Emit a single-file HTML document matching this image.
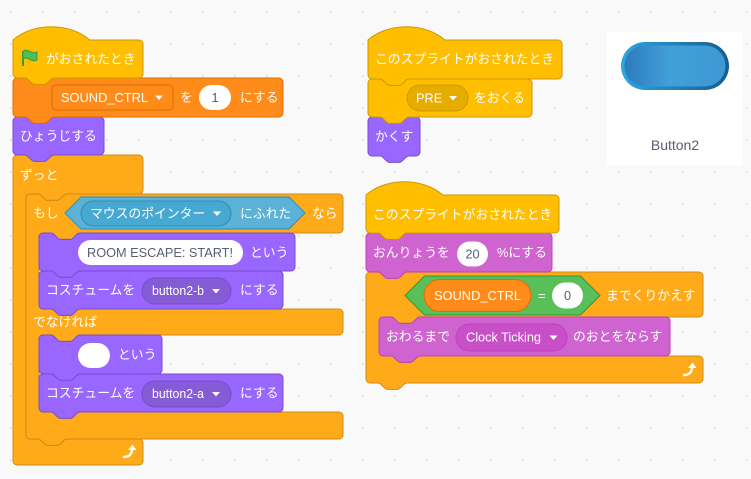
<!DOCTYPE html>
<html><head><meta charset="utf-8"><style>
html,body{margin:0;padding:0;background:#f9f9f9;}
svg{display:block;}
text{font-family:"Liberation Sans","Noto Sans CJK JP",sans-serif;font-size:12.8px;fill:#fff;}
.d{fill:#575E75;}
</style></head><body>
<svg width="751" height="479" viewBox="0 0 751 479" xmlns="http://www.w3.org/2000/svg">
<defs>
<pattern id="g" width="32" height="32" patternUnits="userSpaceOnUse"><circle cx="11" cy="12" r="1" fill="#dcdcdc"/></pattern>
<linearGradient id="bo" x1="0" x2="1" y1="0" y2="0"><stop offset="0" stop-color="#2aa8e0"/><stop offset="1" stop-color="#1a5b8e"/></linearGradient>
<linearGradient id="bi" x1="0" x2="1" y1="0" y2="0"><stop offset="0" stop-color="#2d7bbd"/><stop offset="0.45" stop-color="#42a0d9"/><stop offset="1" stop-color="#3c98d2"/></linearGradient>
</defs>
<rect width="751" height="479" fill="#f9f9f9"/>
<rect width="751" height="479" fill="url(#g)"/>

<!-- Script 1 -->
<path fill="#FFAB19" stroke="#CF8B17" d="M13,159 A4,4 0 0 1 17,155 H25 c1.6,0 2.4,0.8 3.2,1.6 l3.2,3.2 c0.8,0.8 1.6,1.6 3.2,1.6 h9.6 c1.6,0 2.4,-0.8 3.2,-1.6 l3.2,-3.2 c0.8,-0.8 1.6,-1.6 3.2,-1.6 H139 A4,4 0 0 1 143,159 V190 A4,4 0 0 1 139,194 H66.8 c-1.6,0 -2.4,0.8 -3.2,1.6 l-3.2,3.2 c-0.8,0.8 -1.6,1.6 -3.2,1.6 h-9.6 c-1.6,0 -2.4,-0.8 -3.2,-1.6 l-3.2,-3.2 c-0.8,-0.8 -1.6,-1.6 -3.2,-1.6 H30 A4,4 0 0 0 26,198 V435 A4,4 0 0 0 30,439 H38 c1.6,0 2.4,0.8 3.2,1.6 l3.2,3.2 c0.8,0.8 1.6,1.6 3.2,1.6 h9.6 c1.6,0 2.4,-0.8 3.2,-1.6 l3.2,-3.2 c0.8,-0.8 1.6,-1.6 3.2,-1.6 H139 A4,4 0 0 1 143,443 V461 A4,4 0 0 1 139,465 H17 A4,4 0 0 1 13,461 Z"/>
<path fill="#FFAB19" stroke="#CF8B17" d="M26,198 A4,4 0 0 1 30,194 H38 c1.6,0 2.4,0.8 3.2,1.6 l3.2,3.2 c0.8,0.8 1.6,1.6 3.2,1.6 h9.6 c1.6,0 2.4,-0.8 3.2,-1.6 l3.2,-3.2 c0.8,-0.8 1.6,-1.6 3.2,-1.6 H339 A4,4 0 0 1 343,198 V229 A4,4 0 0 1 339,233 H79.8 c-1.6,0 -2.4,0.8 -3.2,1.6 l-3.2,3.2 c-0.8,0.8 -1.6,1.6 -3.2,1.6 h-9.6 c-1.6,0 -2.4,-0.8 -3.2,-1.6 l-3.2,-3.2 c-0.8,-0.8 -1.6,-1.6 -3.2,-1.6 H43 A4,4 0 0 0 39,237 V305 A4,4 0 0 0 43,309 H51 c1.6,0 2.4,0.8 3.2,1.6 l3.2,3.2 c0.8,0.8 1.6,1.6 3.2,1.6 h9.6 c1.6,0 2.4,-0.8 3.2,-1.6 l3.2,-3.2 c0.8,-0.8 1.6,-1.6 3.2,-1.6 H339 A4,4 0 0 1 343,313 V331 A4,4 0 0 1 339,335 H79.8 c-1.6,0 -2.4,0.8 -3.2,1.6 l-3.2,3.2 c-0.8,0.8 -1.6,1.6 -3.2,1.6 h-9.6 c-1.6,0 -2.4,-0.8 -3.2,-1.6 l-3.2,-3.2 c-0.8,-0.8 -1.6,-1.6 -3.2,-1.6 H43 A4,4 0 0 0 39,339 V408 A4,4 0 0 0 43,412 H51 c1.6,0 2.4,0.8 3.2,1.6 l3.2,3.2 c0.8,0.8 1.6,1.6 3.2,1.6 h9.6 c1.6,0 2.4,-0.8 3.2,-1.6 l3.2,-3.2 c0.8,-0.8 1.6,-1.6 3.2,-1.6 H339 A4,4 0 0 1 343,416 V435 A4,4 0 0 1 339,439 H66.8 c-1.6,0 -2.4,0.8 -3.2,1.6 l-3.2,3.2 c-0.8,0.8 -1.6,1.6 -3.2,1.6 h-9.6 c-1.6,0 -2.4,-0.8 -3.2,-1.6 l-3.2,-3.2 c-0.8,-0.8 -1.6,-1.6 -3.2,-1.6 H30 A4,4 0 0 1 26,435 Z"/>
<path fill="#9966FF" stroke="#774DCB" d="M13,121 A4,4 0 0 1 17,117 H25 c1.6,0 2.4,0.8 3.2,1.6 l3.2,3.2 c0.8,0.8 1.6,1.6 3.2,1.6 h9.6 c1.6,0 2.4,-0.8 3.2,-1.6 l3.2,-3.2 c0.8,-0.8 1.6,-1.6 3.2,-1.6 H100 A4,4 0 0 1 104,121 V151 A4,4 0 0 1 100,155 H53.8 c-1.6,0 -2.4,0.8 -3.2,1.6 l-3.2,3.2 c-0.8,0.8 -1.6,1.6 -3.2,1.6 h-9.6 c-1.6,0 -2.4,-0.8 -3.2,-1.6 l-3.2,-3.2 c-0.8,-0.8 -1.6,-1.6 -3.2,-1.6 H17 A4,4 0 0 1 13,151 Z"/>
<path fill="#FF8C1A" stroke="#DB6E00" d="M13,82 A4,4 0 0 1 17,78 H25 c1.6,0 2.4,0.8 3.2,1.6 l3.2,3.2 c0.8,0.8 1.6,1.6 3.2,1.6 h9.6 c1.6,0 2.4,-0.8 3.2,-1.6 l3.2,-3.2 c0.8,-0.8 1.6,-1.6 3.2,-1.6 H279 A4,4 0 0 1 283,82 V113 A4,4 0 0 1 279,117 H53.8 c-1.6,0 -2.4,0.8 -3.2,1.6 l-3.2,3.2 c-0.8,0.8 -1.6,1.6 -3.2,1.6 h-9.6 c-1.6,0 -2.4,-0.8 -3.2,-1.6 l-3.2,-3.2 c-0.8,-0.8 -1.6,-1.6 -3.2,-1.6 H17 A4,4 0 0 1 13,113 Z"/>
<path fill="#FFBF00" stroke="#CC9900" d="M13,40 c20,-17.6 56.8,-17.6 76.8,0 H139 A4,4 0 0 1 143,44 V74 A4,4 0 0 1 139,78 H53.8 c-1.6,0 -2.4,0.8 -3.2,1.6 l-3.2,3.2 c-0.8,0.8 -1.6,1.6 -3.2,1.6 h-9.6 c-1.6,0 -2.4,-0.8 -3.2,-1.6 l-3.2,-3.2 c-0.8,-0.8 -1.6,-1.6 -3.2,-1.6 H17 A4,4 0 0 1 13,74 Z"/>
<!-- inner looks blocks -->
<path fill="#9966FF" stroke="#774DCB" d="M39,237 A4,4 0 0 1 43,233 H51 c1.6,0 2.4,0.8 3.2,1.6 l3.2,3.2 c0.8,0.8 1.6,1.6 3.2,1.6 h9.6 c1.6,0 2.4,-0.8 3.2,-1.6 l3.2,-3.2 c0.8,-0.8 1.6,-1.6 3.2,-1.6 H291 A4,4 0 0 1 295,237 V267 A4,4 0 0 1 291,271 H79.8 c-1.6,0 -2.4,0.8 -3.2,1.6 l-3.2,3.2 c-0.8,0.8 -1.6,1.6 -3.2,1.6 h-9.6 c-1.6,0 -2.4,-0.8 -3.2,-1.6 l-3.2,-3.2 c-0.8,-0.8 -1.6,-1.6 -3.2,-1.6 H43 A4,4 0 0 1 39,267 Z"/>
<path fill="#9966FF" stroke="#774DCB" d="M39,275 A4,4 0 0 1 43,271 H51 c1.6,0 2.4,0.8 3.2,1.6 l3.2,3.2 c0.8,0.8 1.6,1.6 3.2,1.6 h9.6 c1.6,0 2.4,-0.8 3.2,-1.6 l3.2,-3.2 c0.8,-0.8 1.6,-1.6 3.2,-1.6 H279 A4,4 0 0 1 283,275 V305 A4,4 0 0 1 279,309 H79.8 c-1.6,0 -2.4,0.8 -3.2,1.6 l-3.2,3.2 c-0.8,0.8 -1.6,1.6 -3.2,1.6 h-9.6 c-1.6,0 -2.4,-0.8 -3.2,-1.6 l-3.2,-3.2 c-0.8,-0.8 -1.6,-1.6 -3.2,-1.6 H43 A4,4 0 0 1 39,305 Z"/>
<path fill="#9966FF" stroke="#774DCB" d="M39,339 A4,4 0 0 1 43,335 H51 c1.6,0 2.4,0.8 3.2,1.6 l3.2,3.2 c0.8,0.8 1.6,1.6 3.2,1.6 h9.6 c1.6,0 2.4,-0.8 3.2,-1.6 l3.2,-3.2 c0.8,-0.8 1.6,-1.6 3.2,-1.6 H158 A4,4 0 0 1 162,339 V370 A4,4 0 0 1 158,374 H79.8 c-1.6,0 -2.4,0.8 -3.2,1.6 l-3.2,3.2 c-0.8,0.8 -1.6,1.6 -3.2,1.6 h-9.6 c-1.6,0 -2.4,-0.8 -3.2,-1.6 l-3.2,-3.2 c-0.8,-0.8 -1.6,-1.6 -3.2,-1.6 H43 A4,4 0 0 1 39,370 Z"/>
<path fill="#9966FF" stroke="#774DCB" d="M39,378 A4,4 0 0 1 43,374 H51 c1.6,0 2.4,0.8 3.2,1.6 l3.2,3.2 c0.8,0.8 1.6,1.6 3.2,1.6 h9.6 c1.6,0 2.4,-0.8 3.2,-1.6 l3.2,-3.2 c0.8,-0.8 1.6,-1.6 3.2,-1.6 H279 A4,4 0 0 1 283,378 V408 A4,4 0 0 1 279,412 H79.8 c-1.6,0 -2.4,0.8 -3.2,1.6 l-3.2,3.2 c-0.8,0.8 -1.6,1.6 -3.2,1.6 h-9.6 c-1.6,0 -2.4,-0.8 -3.2,-1.6 l-3.2,-3.2 c-0.8,-0.8 -1.6,-1.6 -3.2,-1.6 H43 A4,4 0 0 1 39,408 Z"/>

<!-- Script 1 contents -->
<line x1="23" y1="51" x2="23" y2="66" stroke="#45993d" stroke-width="2"/>
<path d="M23,51 c3,-2 6,0 8,1 c2,1 4,1 6,0 V60 c-2,1 -4,1 -6,0 c-2,-1 -5,-3 -8,-1 Z" fill="#4CBF56" stroke="#45993d" stroke-width="1"/>
<text x="46" y="63.5">がおされたとき</text>

<rect x="52" y="85" width="121" height="25" rx="4" fill="#FF8C1A" stroke="#DB6E00"/>
<text x="61" y="102" textLength="87" lengthAdjust="spacingAndGlyphs">SOUND_CTRL</text>
<path d="M155,95.5 h8 l-4,4.5 z" fill="#fff"/>
<text x="180" y="102">を</text>
<rect x="199" y="85" width="32" height="25" rx="12.5" fill="#fff"/>
<text class="d" x="215" y="102" text-anchor="middle">1</text>
<text x="240" y="102">にする</text>

<text x="20" y="140.5">ひょうじする</text>
<text x="20" y="179.5">ずっと</text>

<text x="33" y="217.5">もし</text>
<path d="M81,197 H289 L305,213 L289,229 H81 L65,213 Z" fill="#5CB1D6" stroke="#2E8EB8"/>
<rect x="81" y="201" width="150" height="25" rx="12.5" fill="#47A8D1" stroke="#2E8EB8"/>
<text x="90" y="218">マウスのポインター</text>
<path d="M213,211.5 h8 l-4,4.5 z" fill="#fff"/>
<text x="240" y="218">にふれた</text>
<text x="312" y="218">なら</text>

<rect x="78" y="240" width="165" height="25" rx="12.5" fill="#fff"/>
<text class="d" x="87" y="257" textLength="146" lengthAdjust="spacingAndGlyphs">ROOM ESCAPE: START!</text>
<text x="250" y="257">という</text>

<text x="46" y="294.5">コスチュームを</text>
<rect x="142" y="278" width="89" height="26" rx="13" fill="#855CD6" stroke="#774DCB"/>
<text x="152" y="295" textLength="52" lengthAdjust="spacingAndGlyphs">button2-b</text>
<path d="M212,289 h8 l-4,4.5 z" fill="#fff"/>
<text x="240" y="294.5">にする</text>

<text x="33" y="326.5">でなければ</text>

<rect x="78" y="343" width="32" height="25" rx="12.5" fill="#fff"/>
<text x="118" y="359">という</text>

<text x="46" y="397.5">コスチュームを</text>
<rect x="142" y="381" width="89" height="26" rx="13" fill="#855CD6" stroke="#774DCB"/>
<text x="152" y="398" textLength="52" lengthAdjust="spacingAndGlyphs">button2-a</text>
<path d="M212,392 h8 l-4,4.5 z" fill="#fff"/>
<text x="240" y="397.5">にする</text>

<path d="M124,457 C129,457 132,454 132,449" stroke="#fff" stroke-width="2.4" fill="none" stroke-linecap="round"/>
<path d="M128,450 L132.5,444.5 L136.5,450 Z" fill="#fff"/>

<!-- Script 2 -->
<path fill="#9966FF" stroke="#774DCB" d="M368,121 A4,4 0 0 1 372,117 H380 c1.6,0 2.4,0.8 3.2,1.6 l3.2,3.2 c0.8,0.8 1.6,1.6 3.2,1.6 h9.6 c1.6,0 2.4,-0.8 3.2,-1.6 l3.2,-3.2 c0.8,-0.8 1.6,-1.6 3.2,-1.6 H416 A4,4 0 0 1 420,121 V152 A4,4 0 0 1 416,156 H408.8 c-1.6,0 -2.4,0.8 -3.2,1.6 l-3.2,3.2 c-0.8,0.8 -1.6,1.6 -3.2,1.6 h-9.6 c-1.6,0 -2.4,-0.8 -3.2,-1.6 l-3.2,-3.2 c-0.8,-0.8 -1.6,-1.6 -3.2,-1.6 H372 A4,4 0 0 1 368,152 Z"/>
<path fill="#FFBF00" stroke="#CC9900" d="M368,83 A4,4 0 0 1 372,79 H380 c1.6,0 2.4,0.8 3.2,1.6 l3.2,3.2 c0.8,0.8 1.6,1.6 3.2,1.6 h9.6 c1.6,0 2.4,-0.8 3.2,-1.6 l3.2,-3.2 c0.8,-0.8 1.6,-1.6 3.2,-1.6 H528 A4,4 0 0 1 532,83 V113 A4,4 0 0 1 528,117 H408.8 c-1.6,0 -2.4,0.8 -3.2,1.6 l-3.2,3.2 c-0.8,0.8 -1.6,1.6 -3.2,1.6 h-9.6 c-1.6,0 -2.4,-0.8 -3.2,-1.6 l-3.2,-3.2 c-0.8,-0.8 -1.6,-1.6 -3.2,-1.6 H372 A4,4 0 0 1 368,113 Z"/>
<path fill="#FFBF00" stroke="#CC9900" d="M368,40 c20,-17.6 56.8,-17.6 76.8,0 H558 A4,4 0 0 1 562,44 V75 A4,4 0 0 1 558,79 H408.8 c-1.6,0 -2.4,0.8 -3.2,1.6 l-3.2,3.2 c-0.8,0.8 -1.6,1.6 -3.2,1.6 h-9.6 c-1.6,0 -2.4,-0.8 -3.2,-1.6 l-3.2,-3.2 c-0.8,-0.8 -1.6,-1.6 -3.2,-1.6 H372 A4,4 0 0 1 368,75 Z"/>
<text x="375" y="63.5">このスプライトがおされたとき</text>
<rect x="407" y="85" width="61" height="26" rx="13" fill="#E6AC00" stroke="#CC9900"/>
<text x="416" y="102.5">PRE</text>
<path d="M449,96 h8 l-4,4.5 z" fill="#fff"/>
<text x="474" y="102.5">をおくる</text>
<text x="375" y="141">かくす</text>

<!-- Sprite card -->
<rect x="607" y="32" width="136" height="133" fill="#fff"/>
<rect x="621" y="42" width="108" height="48" rx="24" fill="url(#bo)"/>
<rect x="624.5" y="45.5" width="101" height="41" rx="20.5" fill="url(#bi)"/>
<text x="675" y="150" text-anchor="middle" style="font-size:14px;fill:#575E75">Button2</text>

<!-- Script 3 -->
<path fill="#FFAB19" stroke="#CF8B17" d="M366,276 A4,4 0 0 1 370,272 H378 c1.6,0 2.4,0.8 3.2,1.6 l3.2,3.2 c0.8,0.8 1.6,1.6 3.2,1.6 h9.6 c1.6,0 2.4,-0.8 3.2,-1.6 l3.2,-3.2 c0.8,-0.8 1.6,-1.6 3.2,-1.6 H699 A4,4 0 0 1 703,276 V313 A4,4 0 0 1 699,317 H419.8 c-1.6,0 -2.4,0.8 -3.2,1.6 l-3.2,3.2 c-0.8,0.8 -1.6,1.6 -3.2,1.6 h-9.6 c-1.6,0 -2.4,-0.8 -3.2,-1.6 l-3.2,-3.2 c-0.8,-0.8 -1.6,-1.6 -3.2,-1.6 H383 A4,4 0 0 0 379,321 V352 A4,4 0 0 0 383,356 H391 c1.6,0 2.4,0.8 3.2,1.6 l3.2,3.2 c0.8,0.8 1.6,1.6 3.2,1.6 h9.6 c1.6,0 2.4,-0.8 3.2,-1.6 l3.2,-3.2 c0.8,-0.8 1.6,-1.6 3.2,-1.6 H699 A4,4 0 0 1 703,360 V379 A4,4 0 0 1 699,383 H406.8 c-1.6,0 -2.4,0.8 -3.2,1.6 l-3.2,3.2 c-0.8,0.8 -1.6,1.6 -3.2,1.6 h-9.6 c-1.6,0 -2.4,-0.8 -3.2,-1.6 l-3.2,-3.2 c-0.8,-0.8 -1.6,-1.6 -3.2,-1.6 H370 A4,4 0 0 1 366,379 Z"/>
<path fill="#CF63CF" stroke="#BD42BD" d="M366,237 A4,4 0 0 1 370,233 H378 c1.6,0 2.4,0.8 3.2,1.6 l3.2,3.2 c0.8,0.8 1.6,1.6 3.2,1.6 h9.6 c1.6,0 2.4,-0.8 3.2,-1.6 l3.2,-3.2 c0.8,-0.8 1.6,-1.6 3.2,-1.6 H548 A4,4 0 0 1 552,237 V268 A4,4 0 0 1 548,272 H406.8 c-1.6,0 -2.4,0.8 -3.2,1.6 l-3.2,3.2 c-0.8,0.8 -1.6,1.6 -3.2,1.6 h-9.6 c-1.6,0 -2.4,-0.8 -3.2,-1.6 l-3.2,-3.2 c-0.8,-0.8 -1.6,-1.6 -3.2,-1.6 H370 A4,4 0 0 1 366,268 Z"/>
<path fill="#FFBF00" stroke="#CC9900" d="M366,195 c20,-17.6 56.8,-17.6 76.8,0 H555 A4,4 0 0 1 559,199 V229 A4,4 0 0 1 555,233 H406.8 c-1.6,0 -2.4,0.8 -3.2,1.6 l-3.2,3.2 c-0.8,0.8 -1.6,1.6 -3.2,1.6 h-9.6 c-1.6,0 -2.4,-0.8 -3.2,-1.6 l-3.2,-3.2 c-0.8,-0.8 -1.6,-1.6 -3.2,-1.6 H370 A4,4 0 0 1 366,229 Z"/>
<path fill="#CF63CF" stroke="#BD42BD" d="M379,321 A4,4 0 0 1 383,317 H391 c1.6,0 2.4,0.8 3.2,1.6 l3.2,3.2 c0.8,0.8 1.6,1.6 3.2,1.6 h9.6 c1.6,0 2.4,-0.8 3.2,-1.6 l3.2,-3.2 c0.8,-0.8 1.6,-1.6 3.2,-1.6 H666 A4,4 0 0 1 670,321 V352 A4,4 0 0 1 666,356 H419.8 c-1.6,0 -2.4,0.8 -3.2,1.6 l-3.2,3.2 c-0.8,0.8 -1.6,1.6 -3.2,1.6 h-9.6 c-1.6,0 -2.4,-0.8 -3.2,-1.6 l-3.2,-3.2 c-0.8,-0.8 -1.6,-1.6 -3.2,-1.6 H383 A4,4 0 0 1 379,352 Z"/>

<text x="373" y="219">このスプライトがおされたとき</text>
<text x="373" y="257">おんりょうを</text>
<rect x="457" y="241.5" width="31" height="25" rx="12.5" fill="#fff"/>
<text class="d" x="472.5" y="258.5" text-anchor="middle">20</text>
<text x="497" y="257">%にする</text>

<path d="M424.5,276 H580.5 L600,295.5 L580.5,315 H424.5 L405,295.5 Z" fill="#59C059" stroke="#389438"/>
<rect x="424" y="279.5" width="107" height="32" rx="16" fill="#FF8C1A" stroke="#DB6E00"/>
<text x="434" y="300" textLength="87" lengthAdjust="spacingAndGlyphs">SOUND_CTRL</text>
<text x="538" y="300">=</text>
<rect x="552" y="282.5" width="31" height="26" rx="13" fill="#fff"/>
<text class="d" x="567.5" y="300" text-anchor="middle">0</text>
<text x="606" y="300">までくりかえす</text>

<text x="386" y="341">おわるまで</text>
<rect x="456" y="324" width="111" height="27" rx="13.5" fill="#C94FC9" stroke="#BD42BD"/>
<text x="466" y="341.5" textLength="75" lengthAdjust="spacingAndGlyphs">Clock Ticking</text>
<path d="M549.5,335.5 h8 l-4,4.5 z" fill="#fff"/>
<text x="573" y="341">のおとをならす</text>

<path d="M684,375 C689,375 692,372 692,367" stroke="#fff" stroke-width="2.4" fill="none" stroke-linecap="round"/>
<path d="M688,368 L692.5,362.5 L696.5,368 Z" fill="#fff"/>
</svg>
</body></html>
